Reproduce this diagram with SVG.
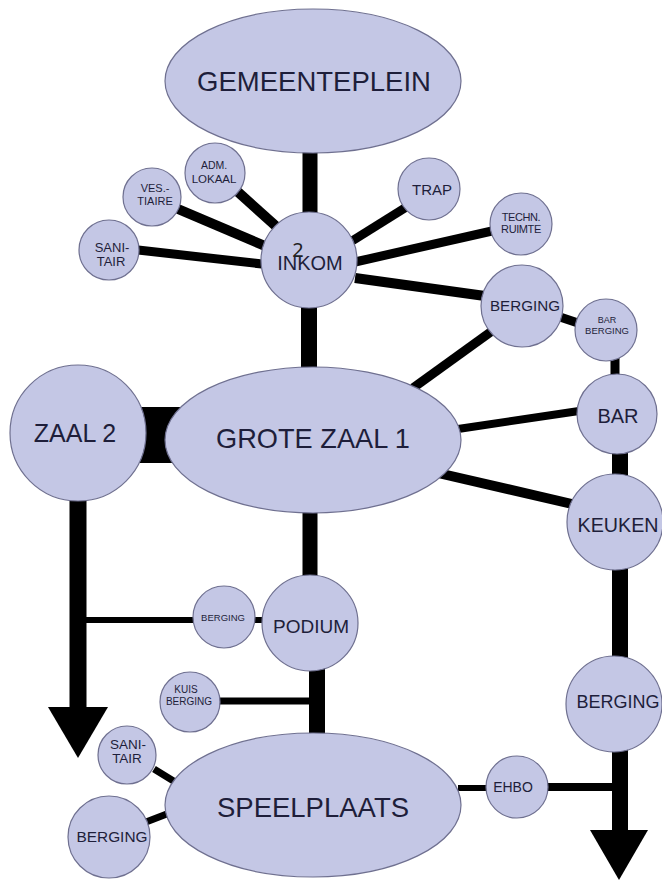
<svg xmlns="http://www.w3.org/2000/svg" width="662" height="880" viewBox="0 0 662 880">
<style>
.n{fill:#c4c7e5;stroke:#6f7090;stroke-width:1.2}
.t{font-family:"Liberation Sans",Arial,sans-serif;fill:#1e1e3a;text-anchor:middle}
.c{stroke:#000;fill:none;stroke-linecap:butt}
</style>
<rect width="662" height="880" fill="#fff"/>
<g id="connectors">
<line class="c" x1="310" y1="150" x2="310" y2="215" stroke-width="15"/>
<line class="c" x1="309" y1="305" x2="309" y2="370" stroke-width="16"/>
<line class="c" x1="310" y1="510" x2="310" y2="578" stroke-width="15"/>
<line class="c" x1="317" y1="668" x2="317" y2="736" stroke-width="16"/>
<line class="c" x1="238" y1="192" x2="278" y2="228" stroke-width="10"/>
<line class="c" x1="178" y1="209" x2="265" y2="246" stroke-width="10"/>
<line class="c" x1="138" y1="250" x2="262" y2="264" stroke-width="9"/>
<line class="c" x1="352" y1="241" x2="408" y2="206" stroke-width="9"/>
<line class="c" x1="355" y1="262" x2="492" y2="231" stroke-width="9"/>
<line class="c" x1="355" y1="278" x2="485" y2="296" stroke-width="10"/>
<line class="c" x1="413" y1="388" x2="492" y2="331" stroke-width="9"/>
<line class="c" x1="560" y1="317" x2="578" y2="323" stroke-width="9"/>
<line class="c" x1="615" y1="358" x2="615" y2="378" stroke-width="9"/>
<line class="c" x1="458" y1="429" x2="579" y2="411" stroke-width="8"/>
<line class="c" x1="438" y1="473" x2="572" y2="504" stroke-width="10"/>
<line class="c" x1="620" y1="450" x2="620" y2="478" stroke-width="16"/>
<rect x="140" y="407" width="42" height="56" fill="#000"/>
<line class="c" x1="78" y1="498" x2="78" y2="710" stroke-width="17"/>
<polygon points="48,707 108,707 78,758" fill="#000"/>
<line class="c" x1="85" y1="620" x2="196" y2="620" stroke-width="6"/>
<line class="c" x1="254" y1="620" x2="264" y2="620" stroke-width="6"/>
<line class="c" x1="218" y1="701" x2="318" y2="701" stroke-width="7"/>
<line class="c" x1="154" y1="769" x2="180" y2="785" stroke-width="7"/>
<line class="c" x1="146" y1="822" x2="172" y2="812" stroke-width="7"/>
<line class="c" x1="458" y1="788" x2="488" y2="788" stroke-width="6"/>
<line class="c" x1="546" y1="787" x2="614" y2="787" stroke-width="8"/>
<line class="c" x1="620" y1="565" x2="620" y2="660" stroke-width="16"/>
<line class="c" x1="620" y1="748" x2="620" y2="834" stroke-width="16"/>
<polygon points="590,830 648,830 619,880" fill="#000"/>
</g>
<g id="gemeenteplein"><ellipse class="n" cx="313" cy="81" rx="148" ry="72"/><text class="t" x="314" y="91" font-size="27.5">GEMEENTEPLEIN</text></g>
<g id="inkom"><circle class="n" cx="309" cy="260" r="48"/><text class="t" x="310" y="270" font-size="20">INKOM</text><text x="298" y="257" font-family="'Noto Sans',sans-serif" font-size="20" fill="#222" text-anchor="middle">2</text></g>
<g id="adm-lokaal"><circle class="n" cx="215" cy="173" r="30"/><text class="t" x="214" y="169" font-size="10.5">ADM.</text><text class="t" x="214" y="183" font-size="11.5">LOKAAL</text></g>
<g id="vestiaire"><circle class="n" cx="152" cy="197" r="29"/><text class="t" x="155" y="192" font-size="11">VES.-</text><text class="t" x="155" y="204.5" font-size="11">TIAIRE</text></g>
<g id="sanitair-top"><circle class="n" cx="109" cy="250" r="30"/><text class="t" x="112" y="252" font-size="13">SANI-</text><text class="t" x="111" y="266" font-size="13">TAIR</text></g>
<g id="trap"><circle class="n" cx="429" cy="189" r="31"/><text class="t" x="432" y="195" font-size="15">TRAP</text></g>
<g id="techn-ruimte"><circle class="n" cx="521" cy="224" r="31"/><text class="t" x="521" y="221" font-size="11" letter-spacing="-0.4">TECHN.</text><text class="t" x="521" y="233" font-size="11" letter-spacing="-0.4">RUIMTE</text></g>
<g id="berging-inkom"><circle class="n" cx="522" cy="306" r="41"/><text class="t" x="525" y="311" font-size="15.2">BERGING</text></g>
<g id="bar-berging"><circle class="n" cx="606" cy="330" r="31"/><text class="t" x="607" y="323" font-size="9">BAR</text><text class="t" x="607" y="334" font-size="9.5">BERGING</text></g>
<g id="bar"><circle class="n" cx="617" cy="414" r="40"/><text class="t" x="618" y="423" font-size="20">BAR</text></g>
<g id="keuken"><circle class="n" cx="615" cy="522" r="48"/><text class="t" x="618" y="532" font-size="19.7">KEUKEN</text></g>
<g id="zaal-2"><circle class="n" cx="78" cy="433" r="68"/><text class="t" x="75" y="442" font-size="25">ZAAL 2</text></g>
<g id="grote-zaal-1"><ellipse class="n" cx="313" cy="440" rx="148" ry="73"/><text class="t" x="313" y="448" font-size="27.2">GROTE ZAAL 1</text></g>
<g id="berging-podium"><circle class="n" cx="224" cy="617" r="31"/><text class="t" x="223" y="621" font-size="9.5">BERGING</text></g>
<g id="podium"><circle class="n" cx="310" cy="623" r="48"/><text class="t" x="311" y="633" font-size="19">PODIUM</text></g>
<g id="kuis-berging"><circle class="n" cx="190" cy="702" r="30"/><text class="t" x="186" y="693" font-size="10">KUIS</text><text class="t" x="189" y="705" font-size="10">BERGING</text></g>
<g id="sanitair-bottom"><circle class="n" cx="127" cy="755" r="29"/><text class="t" x="128" y="749" font-size="13.5">SANI-</text><text class="t" x="127" y="763" font-size="13.5">TAIR</text></g>
<g id="berging-speelplaats"><circle class="n" cx="109" cy="837" r="41"/><text class="t" x="112" y="842" font-size="15.4">BERGING</text></g>
<g id="speelplaats"><ellipse class="n" cx="313" cy="805" rx="148" ry="72"/><text class="t" x="313" y="817" font-size="27.5">SPEELPLAATS</text></g>
<g id="ehbo"><circle class="n" cx="517" cy="787" r="31"/><text class="t" x="513" y="792" font-size="14">EHBO</text></g>
<g id="berging-right"><circle class="n" cx="614" cy="704" r="48"/><text class="t" x="618" y="708" font-size="18">BERGING</text></g>
</svg>
